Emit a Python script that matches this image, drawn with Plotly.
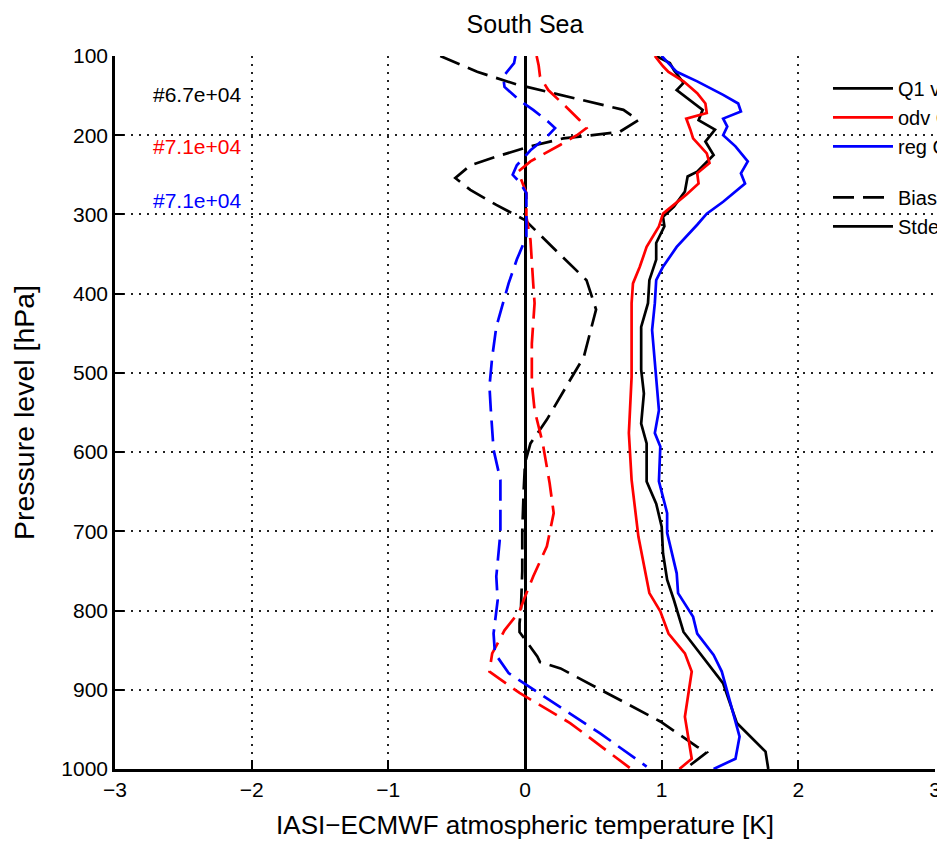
import plotly.graph_objects as go

# ---------------- data ----------------
p_q1_bias = [100, 120, 136, 145, 158, 168, 181, 191, 196, 204, 214, 227, 238, 254, 269, 288, 307,
             341, 383, 420, 480, 509, 559, 589, 614, 650, 700, 750, 800, 816, 827, 858, 865, 873,
             940, 972, 979, 995, 1000]
q1_bias = [-0.62, -0.35, -0.06, 0.16, 0.48, 0.72, 0.83, 0.74, 0.69, 0.28, 0.04, -0.21, -0.40, -0.51,
           -0.40, -0.21, 0.00, 0.20, 0.45, 0.52, 0.43, 0.33, 0.16, 0.04, 0.00, -0.01, -0.02, -0.02,
           -0.03, -0.04, -0.04, 0.09, 0.11, 0.26, 0.99, 1.26, 1.33, 1.21, 1.18]

p_odv_bias = [100, 112, 126, 143, 164, 181, 191, 200, 212, 233, 246, 273, 303, 332, 387, 412, 463,
              513, 547, 589, 639, 677, 719, 757, 787, 801, 825, 854, 865, 877, 904, 942, 999]
odv_bias = [0.085, 0.10, 0.11, 0.17, 0.30, 0.40, 0.45, 0.38, 0.26, 0.04, -0.05, 0.01, 0.01, 0.04,
            0.06, 0.07, 0.05, 0.05, 0.07, 0.13, 0.18, 0.21, 0.16, 0.06, -0.01, -0.04, -0.15, -0.24,
            -0.25, -0.26, -0.04, 0.33, 0.77]

p_reg_bias = [100, 109, 126, 139, 156, 168, 183, 191, 202, 219, 238, 250, 259, 273, 328, 357, 387,
              412, 442, 480, 517, 547, 597, 635, 660, 702, 757, 787, 829, 854, 879, 905, 955, 997]
reg_bias = [-0.07, -0.08, -0.16, -0.15, -0.04, 0.06, 0.17, 0.22, 0.16, 0.04, -0.06, -0.09, -0.04,
            0.01, 0.01, -0.06, -0.12, -0.16, -0.21, -0.24, -0.26, -0.25, -0.23, -0.18, -0.18, -0.18,
            -0.21, -0.20, -0.23, -0.22, -0.12, 0.11, 0.55, 0.89]

p_q1_std = [100, 109, 118, 134, 143, 168, 181, 193, 208, 225, 246, 252, 271, 290, 303, 315, 336,
            357, 383, 412, 442, 496, 526, 564, 589, 637, 665, 694, 728, 761, 787, 827, 892, 942,
            978, 1000]
q1_std = [0.96, 1.06, 1.09, 1.16, 1.11, 1.30, 1.27, 1.39, 1.32, 1.38, 1.26, 1.19, 1.17, 1.09, 1.01,
          1.02, 0.96, 0.96, 0.91, 0.90, 0.85, 0.85, 0.87, 0.85, 0.89, 0.89, 0.96, 1.00, 1.01, 1.04,
          1.09, 1.16, 1.45, 1.55, 1.76, 1.78]

p_odv_std = [100, 113, 120, 132, 147, 160, 172, 179, 193, 204, 223, 235, 248, 261, 275, 299, 315,
             341, 366, 387, 412, 505, 576, 635, 707, 778, 801, 829, 854, 877, 934, 987, 1000]
odv_std = [0.95, 1.01, 1.05, 1.16, 1.26, 1.32, 1.33, 1.18, 1.21, 1.23, 1.33, 1.35, 1.26, 1.27, 1.18,
           1.01, 0.98, 0.89, 0.84, 0.79, 0.78, 0.78, 0.76, 0.78, 0.83, 0.91, 0.99, 1.05, 1.17, 1.22,
           1.17, 1.22, 1.13]

p_reg_std = [100, 109, 120, 132, 149, 160, 170, 179, 189, 200, 214, 233, 248, 261, 284, 299, 313,
             341, 366, 383, 412, 446, 509, 547, 576, 593, 637, 677, 702, 753, 778, 808, 829, 856,
             877, 921, 959, 987, 1000]
reg_std = [1.00, 1.05, 1.11, 1.26, 1.45, 1.56, 1.58, 1.45, 1.48, 1.45, 1.54, 1.63, 1.58, 1.61, 1.45,
           1.33, 1.26, 1.11, 1.01, 0.96, 0.95, 0.93, 0.96, 0.98, 0.95, 0.99, 0.98, 1.04, 1.04, 1.11,
           1.12, 1.23, 1.26, 1.38, 1.44, 1.51, 1.57, 1.54, 1.38]

legend_names = ["Q1 vs ECMWF", "odv CrIS", "reg CrIS"]
legend_colors = ["black", "#ff0000", "#0000ff"]
counts = ["#6.7e+04", "#7.1e+04", "#7.1e+04"]
count_p = [148, 214, 282]

x_ticks = [-3, -2, -1, 0, 1, 2, 3]
y_ticks = [100, 200, 300, 400, 500, 600, 700, 800, 900, 1000]

FONT = "Liberation Sans, Arial, Helvetica, sans-serif"
DASH = "21px,9px"
LW = 2.7

fig = go.Figure()

series = [
    (q1_bias, p_q1_bias, "black", DASH),
    (odv_bias, p_odv_bias, "#ff0000", DASH),
    (reg_bias, p_reg_bias, "#0000ff", DASH),
    (q1_std, p_q1_std, "black", "solid"),
    (odv_std, p_odv_std, "#ff0000", "solid"),
    (reg_std, p_reg_std, "#0000ff", "solid"),
]
for xs, ps, col, dash in series:
    fig.add_trace(go.Scatter(x=xs, y=ps, mode="lines", showlegend=False, hoverinfo="skip",
                             line=dict(color=col, width=LW, dash=dash)))

# legend entries
for name, col in zip(legend_names, legend_colors):
    fig.add_trace(go.Scatter(x=[None], y=[None], mode="lines", name=name, legendgroup="g1",
                             line=dict(color=col, width=LW)))
fig.add_trace(go.Scatter(x=[None], y=[None], mode="lines", name="Bias", legendgroup="g2",
                         line=dict(color="black", width=LW, dash=DASH)))
fig.add_trace(go.Scatter(x=[None], y=[None], mode="lines", name="Stdev", legendgroup="g2",
                         line=dict(color="black", width=LW)))

for txt, col, p in zip(counts, legend_colors, count_p):
    fig.add_annotation(x=-2.06, y=p, text=txt, showarrow=False, xanchor="right", yanchor="middle",
                       font=dict(family=FONT, size=21, color=col))

fig.update_layout(
    width=945, height=842,
    margin=dict(l=107, r=18, t=48, b=81, autoexpand=False),
    paper_bgcolor="white", plot_bgcolor="white",
    font=dict(family=FONT, size=21, color="black"),
    title=dict(text="South Sea", x=0.5, xref="paper", xanchor="center", y=0.981, yanchor="middle",
               font=dict(family=FONT, size=25, color="black")),
    legend=dict(x=0.8695, y=0.982, xanchor="left", yanchor="top", bgcolor="rgba(0,0,0,0)",
                traceorder="grouped", tracegroupgap=22, font=dict(family=FONT, size=20),
                itemwidth=60),
    showlegend=True,
)
fig.update_xaxes(
    range=[-3, 3], tickvals=x_ticks, ticktext=[str(v) if v >= 0 else "\u2212" + str(-v) for v in x_ticks],
    showgrid=True, gridcolor="#222", gridwidth=1.6, griddash="2px,6px",
    zeroline=True, zerolinecolor="black", zerolinewidth=2.5,
    showline=True, linecolor="black", linewidth=2.5,
    ticks="inside", ticklen=9, tickwidth=2, tickcolor="black",
    title=dict(text="IASI\u2212ECMWF atmospheric temperature [K]", font=dict(family=FONT, size=26), standoff=16),
    tickfont=dict(family=FONT, size=21),
)
fig.update_yaxes(
    range=[1000, 100], tickvals=y_ticks,
    showgrid=True, gridcolor="#222", gridwidth=1.6, griddash="2px,6px",
    zeroline=False,
    showline=True, linecolor="black", linewidth=2.5,
    ticks="inside", ticklen=9, tickwidth=2, tickcolor="black",
    title=dict(text="Pressure level [hPa]", font=dict(family=FONT, size=28.5), standoff=22),
    tickfont=dict(family=FONT, size=21),
)

fig.write_html("out.html")
